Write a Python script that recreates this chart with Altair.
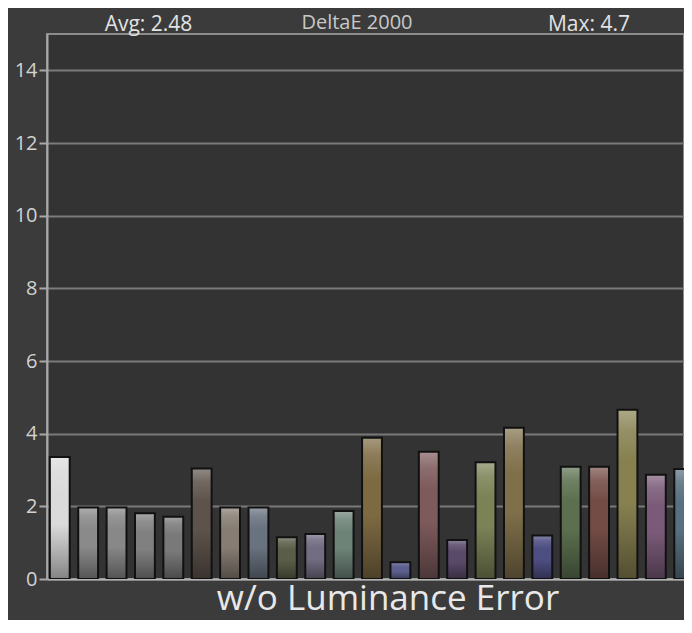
import altair as alt
import pandas as pd

# ---- data ----
patches = [f"P{i+1}" for i in range(23)]
delta_e = [3.36, 1.97, 1.97, 1.81, 1.71, 3.04, 1.97, 1.97, 1.15, 1.24, 1.87, 3.89,
           0.46, 3.50, 1.07, 3.21, 4.16, 1.20, 3.09, 3.09, 4.66, 2.87, 3.03]
patch_colors = ["#dadada", "#8a8a8a", "#888888", "#808080", "#797979", "#5e534c",
                "#877d73", "#69727f", "#5a5e48", "#726d82", "#6d8378", "#7d6a42",
                "#5c5f8e", "#7d5a5c", "#5a4a6a", "#7b8256", "#80704a", "#4e4e82",
                "#5c7050", "#744c46", "#878150", "#7a5a78", "#587080"]
y_ticks = [0, 2, 4, 6, 8, 10, 12, 14]
avg_label = "Avg: 2.48"
max_label = "Max: 4.7"
metric_label = "DeltaE 2000"
title_text = "w/o Luminance Error"

df = pd.DataFrame({"patch": patches, "deltaE": delta_e, "color": patch_colors})

FONT = "Open Sans"

x_enc = alt.X(
    "patch:N", sort=patches,
    scale=alt.Scale(paddingInner=0.3, paddingOuter=0.1, range=[0, 650]),
    axis=alt.Axis(labels=False, ticks=False, title=None, grid=False,
                  domainColor="#b4b4b4", domainWidth=2),
)
y_enc = alt.Y(
    "deltaE:Q",
    scale=alt.Scale(domain=[0, 15], nice=False),
    axis=alt.Axis(values=y_ticks, title=None, grid=True, gridColor="#7a7a7a",
                  gridWidth=2, tickColor="#a8a8a8", tickSize=8, tickWidth=2,
                  domainColor="#a8a8a8", domainWidth=2, labelFont=FONT,
                  labelFontSize=20, labelColor="#d2d2d2", labelPadding=2),
)

bars = alt.Chart(df).mark_bar(clip=True).encode(
    x=x_enc, y=y_enc, color=alt.Color("color:N", scale=None, legend=None)
)

shade = alt.LinearGradient(
    gradient="linear", x1=0, x2=0, y1=0, y2=1,
    stops=[
        alt.GradientStop(color="rgba(255,255,255,0.32)", offset=0),
        alt.GradientStop(color="rgba(255,255,255,0.12)", offset=0.12),
        alt.GradientStop(color="rgba(255,255,255,0.0)", offset=0.3),
        alt.GradientStop(color="rgba(0,0,0,0.0)", offset=0.55),
        alt.GradientStop(color="rgba(0,0,0,0.30)", offset=0.9),
        alt.GradientStop(color="rgba(0,0,0,0.40)", offset=1),
    ],
)
overlay = alt.Chart(df).mark_bar(clip=True, fill=shade, stroke="#111111",
                                 strokeWidth=2).encode(x=x_enc, y=y_enc)


def label(text, px, py, size, color):
    return alt.Chart(pd.DataFrame({"t": [text]})).mark_text(
        font=FONT, fontSize=size, color=color, align="center", baseline="alphabetic"
    ).encode(text="t:N", x=alt.value(px), y=alt.value(py))


chart = alt.layer(
    bars,
    overlay,
    label(avg_label, 101.5, -3, 21, "#e2e2e2"),
    label(metric_label, 310, -5, 20, "#c8c8c8"),
    label(max_label, 542, -3, 21, "#e2e2e2"),
    label(title_text, 341, 576, 35, "#e8e8e8"),
).properties(
    width=637, height=545,
    padding={"left": 39, "top": 26, "right": 0, "bottom": 41},
    autosize=alt.AutoSizeParams(type="none"),
    background="#3b3b3b",
).configure_view(
    fill="#333333", stroke="#8c8c8c", strokeWidth=2
)

chart.save("out.html", embed_options={"renderer": "svg", "actions": False})
